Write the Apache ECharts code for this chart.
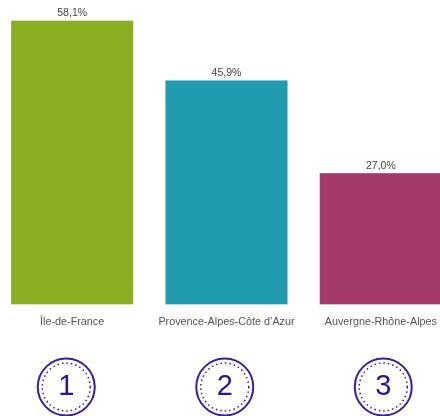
<!DOCTYPE html>
<html><head><meta charset="utf-8">
<script src="https://cdn.jsdelivr.net/npm/echarts@6/dist/echarts.min.js"></script>
<style>html,body{margin:0;padding:0;background:#fff}#c{width:440px;height:416px}</style>
</head><body><div id="c"></div>
<script>
const categories = ['Île-de-France', 'Provence-Alpes-Côte d\u2019Azur', 'Auvergne-Rhône-Alpes'];
const values = [58.1, 45.9, 27.0];
const ranks = ['1', '2', '3'];
const colors = ['#8BAD23', '#219BAE', '#A3386A'];

const chart = echarts.init(document.getElementById('c'));
chart.setOption({
  animation: false,
  grid: [
    {left: -5, width: 463, top: 10.7, height: 294.3, outerBoundsMode: 'none', containLabel: false},
    {left: -13, width: 475.5, top: 357, height: 60, outerBoundsMode: 'none', containLabel: false}
  ],
  xAxis: [
    {gridIndex: 0, type: 'category', data: categories,
     axisLine: {show: false}, axisTick: {show: false},
     axisLabel: {interval: 0, hideOverlap: false, color: '#555', fontSize: 10.8, fontFamily: 'Arial, Liberation Sans', margin: 12}},
    {gridIndex: 1, type: 'category', data: categories, show: false}
  ],
  yAxis: [
    {gridIndex: 0, type: 'value', min: 0, max: 60, show: false},
    {gridIndex: 1, type: 'value', min: 0, max: 1, show: false}
  ],
  series: [
    {type: 'bar', xAxisIndex: 0, yAxisIndex: 0, barWidth: '80%',
     data: values.map((v, i) => ({value: v, itemStyle: {color: colors[i], borderColor: 'rgba(255,255,255,0.35)', borderWidth: 1}})),
     label: {show: true, position: 'top', distance: 1, color: '#444', fontSize: 10.5, fontFamily: 'Arial, Liberation Sans',
       formatter: p => p.value.toFixed(1).replace('.', ',') + '%'}},
    {type: 'scatter', xAxisIndex: 1, yAxisIndex: 1, symbol: 'circle', symbolSize: 57,
     data: ranks.map(() => 0.5),
     itemStyle: {color: '#fff', borderColor: '#3B1E9C', borderWidth: 2, opacity: 1},
     label: {show: true, position: 'inside', color: '#2E1690', fontSize: 29, fontFamily: 'Arial, Liberation Sans',
       formatter: p => ranks[p.dataIndex]}},
    {type: 'scatter', xAxisIndex: 1, yAxisIndex: 1, symbol: 'circle', symbolSize: 48, silent: true, z: 3,
     data: ranks.map(() => 0.5),
     itemStyle: {color: 'transparent', borderColor: '#3B1E9C', borderWidth: 1.5, borderType: [1.5, 3], opacity: 1}}
  ]
});
</script></body></html>
